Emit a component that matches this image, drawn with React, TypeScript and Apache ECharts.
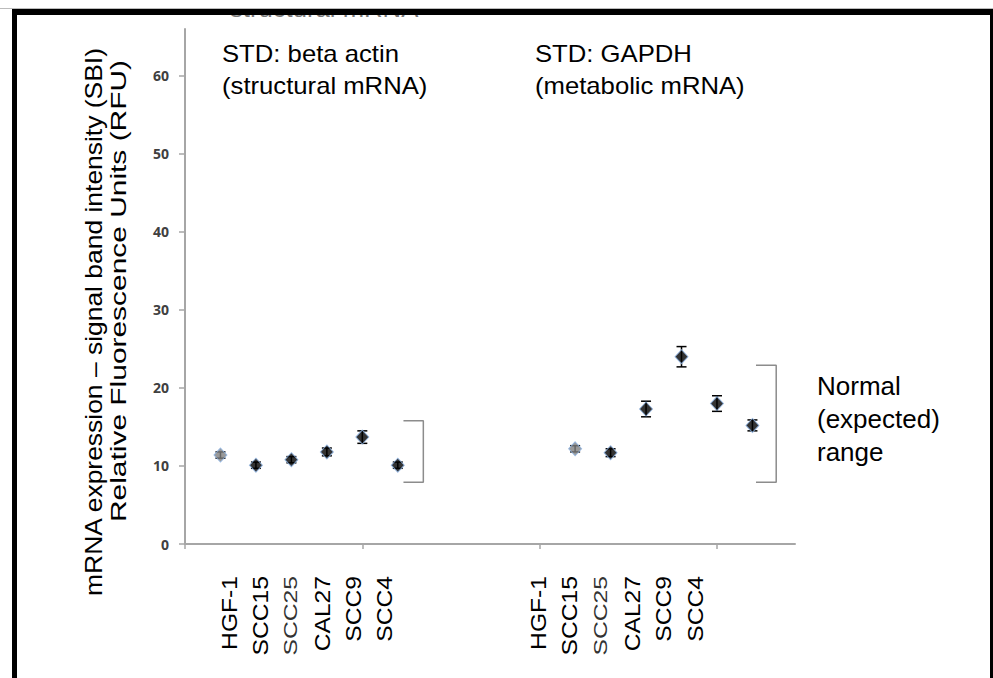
import React, { useEffect, useRef } from "react";
import * as echarts from "echarts";

// ---- data ----
const cellLines = ["HGF-1", "SCC15", "SCC25", "CAL27", "SCC9", "SCC4"];
const actinX = [1, 2, 3, 4, 5, 6];
const actinMean = [11.4, 10.1, 10.8, 11.8, 13.7, 10.1];
const actinErr = [0.4, 0.4, 0.4, 0.5, 0.8, 0.4];
const gapdhX = [11, 12, 13, 14, 15, 16];
const gapdhMean = [12.2, 11.7, 17.3, 24.0, 18.0, 15.2];
const gapdhErr = [0.4, 0.5, 1.0, 1.3, 1.0, 0.7];
const yTicks = [0, 10, 20, 30, 40, 50, 60];
const xTicks = [0, 5, 10, 15];
const actinRange = [7.9, 15.8];
const gapdhRange = [7.9, 22.9];
const yTitle = [
  "mRNA expression \u2013 signal band intensity (SBI)",
  "Relative Fluorescence Units (RFU)",
];
const actinTitle = ["STD: beta actin", "(structural mRNA)"];
const gapdhTitle = ["STD: GAPDH", "(metabolic mRNA)"];
const rangeText = ["Normal", "(expected)", "range"];

const FONT = "'Liberation Sans', Arial, sans-serif";

function buildOption() {
  const pts = (xs: number[], ys: number[]) =>
    xs.map((x, i) => ({
      value: [x, ys[i]],
      itemStyle: { color: i === 0 ? "#808080" : "#000000" },
    }));
  const errs = (xs: number[], ys: number[], es: number[]) =>
    xs.map((x, i) => [x, ys[i] - es[i], ys[i] + es[i]]);

  const bracket = (x1: number, x2: number, r: number[]) => [
    [x1, r[1]],
    [x2, r[1]],
    [x2, r[0]],
    [x1, r[0]],
  ];

  const graphics: any[] = [];
  // y-axis titles
  graphics.push({
    type: "text",
    x: 94,
    y: 322,
    rotation: Math.PI / 2,
    scaleX: 1.15,
    style: {
      text: yTitle[0],
      font: `23px ${FONT}`,
      fill: "#000",
      textAlign: "center",
      textVerticalAlign: "middle",
    },
  });
  graphics.push({
    type: "text",
    x: 118,
    y: 291,
    rotation: Math.PI / 2,
    scaleX: 1.36,
    style: {
      text: yTitle[1],
      font: `22px ${FONT}`,
      fill: "#000",
      textAlign: "center",
      textVerticalAlign: "middle",
    },
  });
  // group titles
  const titleLines = (lines: string[], x: number) =>
    lines.forEach((t, i) =>
      graphics.push({
        type: "text",
        x,
        y: 54 + i * 32,
        scaleX: 1.07,
        style: {
          text: t,
          font: `24px ${FONT}`,
          fill: "#000",
          textAlign: "left",
          textVerticalAlign: "middle",
        },
      })
    );
  titleLines(actinTitle, 222);
  titleLines(gapdhTitle, 535);
  // range text
  rangeText.forEach((t, i) =>
    graphics.push({
      type: "text",
      x: 817,
      y: 386 + i * 33,
      style: {
        text: t,
        font: `26px ${FONT}`,
        fill: "#000",
        textAlign: "left",
        textVerticalAlign: "middle",
      },
    })
  );
  // rotated category labels
  const catLabels = (x0: number, step: number) =>
    cellLines.forEach((t, i) => {
      const light = t === "SCC25";
      graphics.push({
        type: "text",
        x: x0 + i * step,
        y: 576,
        rotation: Math.PI / 2,
        scaleX: light ? 1.3 : 1.12,
        style: {
          text: t,
          font: `${light ? 19 : 22}px ${FONT}`,
          fill: light ? "#333" : "#000",
          textAlign: "right",
          textVerticalAlign: "middle",
        },
      });
    });
  catLabels(229, 31);
  catLabels(538, 31.4);
  // cut-off text at the very top
  graphics.push({
    type: "text",
    x: 230,
    y: 9,
    scaleX: 1.07,
    style: {
      text: "structural mRNA",
      font: `24px ${FONT}`,
      fill: "#777",
      textAlign: "left",
      textVerticalAlign: "middle",
    },
  });
  // frame
  graphics.push(
    { type: "rect", z: 100, shape: { x: 0, y: 0, width: 993, height: 8 }, style: { fill: "#fff" } },
    { type: "rect", z: 100, shape: { x: 0, y: 8, width: 993, height: 1 }, style: { fill: "#bbb" } },
    { type: "rect", z: 100, shape: { x: 12, y: 9, width: 981, height: 6 }, style: { fill: "#000" } },
    { type: "rect", z: 100, shape: { x: 12, y: 9, width: 5, height: 669 }, style: { fill: "#000" } },
    { type: "rect", z: 100, shape: { x: 990, y: 9, width: 3, height: 669 }, style: { fill: "#000" } }
  );

  const errRender = (params: any, api: any) => {
    const x = api.value(0);
    const lo = api.coord([x, api.value(1)]);
    const hi = api.coord([x, api.value(2)]);
    const w = 5;
    const st = { stroke: "#000", lineWidth: 1.5 };
    return {
      type: "group",
      children: [
        { type: "line", shape: { x1: lo[0], y1: lo[1], x2: hi[0], y2: hi[1] }, style: st },
        { type: "line", shape: { x1: lo[0] - w, y1: lo[1], x2: lo[0] + w, y2: lo[1] }, style: st },
        { type: "line", shape: { x1: hi[0] - w, y1: hi[1], x2: hi[0] + w, y2: hi[1] }, style: st },
      ],
    };
  };

  const markerStyle = { borderColor: "#8db3e2", borderWidth: 1 };

  return {
    animation: false,
    backgroundColor: "#fff",
    grid: { left: 185, right: 198, top: 29, bottom: 134, containLabel: false },
    xAxis: {
      type: "value",
      min: 0,
      max: 17.2,
      interval: 5,
      splitLine: { show: false },
      axisLine: { show: true, onZero: false, lineStyle: { color: "#a6a6a6", width: 2 } },
      axisTick: { show: true, length: 5, customValues: xTicks, lineStyle: { color: "#a6a6a6", width: 1.5 } },
      axisLabel: { show: false },
    },
    yAxis: {
      type: "value",
      min: 0,
      max: 66,
      interval: 10,
      splitLine: { show: false },
      axisLine: { show: true, lineStyle: { color: "#a6a6a6", width: 2 } },
      axisTick: { show: true, length: 6, customValues: yTicks, lineStyle: { color: "#a6a6a6", width: 1.5 } },
      axisLabel: {
        customValues: yTicks,
        margin: 16,
        fontFamily: "'Open Sans', sans-serif",
        fontSize: 14,
        fontWeight: 700,
        color: "#404040",
      },
    },
    graphic: graphics,
    series: [
      {
        type: "custom",
        name: "actinErr",
        renderItem: errRender,
        data: errs(actinX, actinMean, actinErr),
        z: 2,
        silent: true,
      },
      {
        type: "custom",
        name: "gapdhErr",
        renderItem: errRender,
        data: errs(gapdhX, gapdhMean, gapdhErr),
        z: 2,
        silent: true,
      },
      {
        type: "scatter",
        name: "beta actin",
        symbol: "diamond",
        symbolSize: [13, 14],
        data: pts(actinX, actinMean),
        itemStyle: markerStyle,
        z: 5,
      },
      {
        type: "scatter",
        name: "GAPDH",
        symbol: "diamond",
        symbolSize: [13, 14],
        data: pts(gapdhX, gapdhMean),
        itemStyle: markerStyle,
        z: 5,
      },
      {
        type: "line",
        name: "actinRange",
        data: bracket(6.16, 6.72, actinRange),
        showSymbol: false,
        lineStyle: { color: "#8c8c8c", width: 1.5 },
        z: 1,
      },
      {
        type: "line",
        name: "gapdhRange",
        data: bracket(16.1, 16.67, gapdhRange),
        showSymbol: false,
        lineStyle: { color: "#8c8c8c", width: 1.5 },
        z: 1,
      },
    ],
  };
}

export default function App() {
  const ref = useRef<HTMLDivElement>(null);
  useEffect(() => {
    if (!ref.current) return;
    const chart = echarts.init(ref.current, undefined, { renderer: "svg" });
    chart.setOption(buildOption() as any);
    return () => chart.dispose();
  }, []);
  return (
    <div
      ref={ref}
      style={{ position: "fixed", left: 0, top: 0, width: 993, height: 678, background: "#fff" }}
    />
  );
}
